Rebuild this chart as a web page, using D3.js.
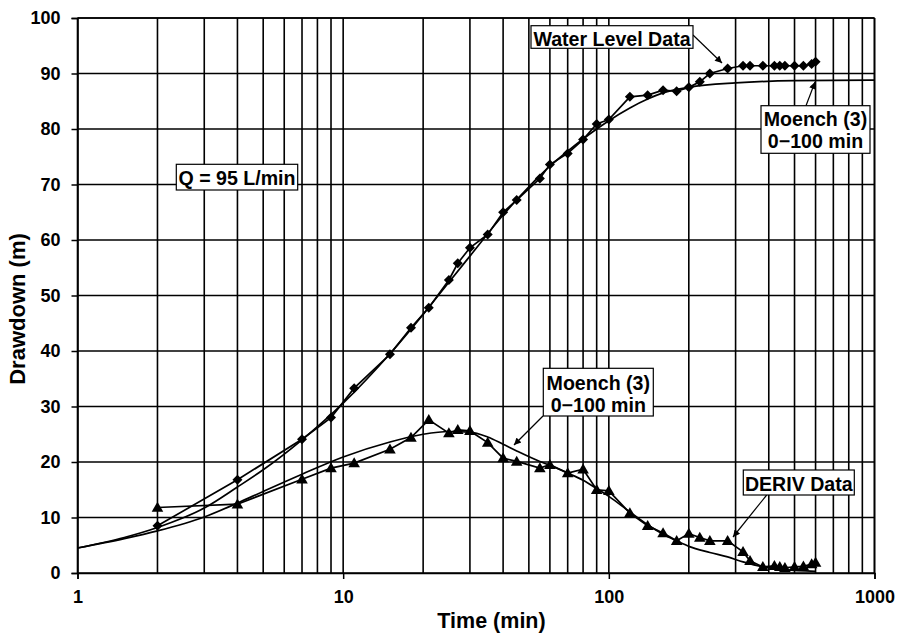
<!DOCTYPE html>
<html>
<head>
<meta charset="utf-8">
<script src="https://cdn.jsdelivr.net/npm/d3@7"></script>
<style>
  html, body { margin: 0; padding: 0; background: #fff; }
  svg { display: block; }
  text { font-family: "Liberation Sans", Arial, Helvetica, sans-serif; font-weight: bold; fill: #000; }
</style>
</head>
<body>
<svg id="chart" width="897" height="635"></svg>
<script>
// ---------------- DATA ----------------
const timeMin = [2,4,7,9,11,15,18,21,25,27,30,35,40,45,55,60,70,80,90,100,120,140,160,180,200,220,240,280,320,340,380,420,440,460,500,540,580,600];
const waterLevel = [8.5,16.8,24.1,28.0,33.3,39.4,44.2,47.8,52.8,55.8,58.6,61.0,65.0,67.2,71.1,73.6,75.6,78.1,80.9,81.7,85.8,86.1,87.0,86.8,87.5,88.5,90.0,90.9,91.4,91.4,91.4,91.4,91.4,91.4,91.4,91.4,91.7,92.1];
const derivData = [11.8,12.4,16.9,18.9,19.8,22.3,24.4,27.6,25.2,25.8,25.6,23.5,20.7,20.1,18.9,19.5,18.0,18.7,15.0,14.8,10.8,8.5,7.2,5.8,7.1,6.4,5.8,5.8,3.8,2.2,1.1,1.3,1.1,0.95,1.1,1.2,1.6,1.9];

const moenchWLTime = [1,1.5,2,3,4,5,7,10,15,20,25,30,40,50,60,70,80,90,100,120,140,160,200,300,500,1000];
const moenchWL     = [4.5,6.4,8.2,11.7,15.5,18.6,24.0,30.6,39.5,46.6,52.4,57.1,64.5,69.6,73.3,76.0,78.2,80.0,81.5,83.8,85.4,86.5,87.5,88.3,88.7,88.8];

const moenchDTime = [1,1.5,2,3,4,5,7,10,15,20,25,30,35,40,45,55,60,70,80,90,100,120,140,160,180,200,240,280,320,380,460,600];
const moenchD     = [4.5,6.2,7.6,10.1,12.6,14.7,17.8,20.9,23.6,25.0,25.5,25.4,24.5,23.2,22.0,20.1,19.4,18.0,16.7,15.2,13.8,11.0,8.7,7.0,5.8,4.8,3.7,2.9,2.0,1.1,0.6,0.3];

const xTickValues = [1,10,100,1000];
const xTickLabels = ["1","10","100","1000"];
const yTickValues = [0,10,20,30,40,50,60,70,80,90,100];
const xTitle = "Time (min)";
const yTitle = "Drawdown (m)";

// ---------------- LAYOUT ----------------
const W = 897, H = 635;
const L = 77.5, R = 874.5, T = 18, B = 573;

const svg = d3.select("#chart");
const x = d3.scaleLog().domain([1,1000]).range([L, R]);
const y = d3.scaleLinear().domain([0,100]).range([B, T]);

const gridColor = "#000";
const gridW = 1.6;

const vGrid = [];
for (let d = 1; d < 1000; d *= 10) for (let k = 1; k <= 9; k++) vGrid.push(d * k);
vGrid.push(1000);
svg.append("g").selectAll("line").data(vGrid).join("line")
  .attr("x1", d => x(d)).attr("x2", d => x(d))
  .attr("y1", T).attr("y2", B)
  .attr("stroke", gridColor).attr("stroke-width", gridW);

svg.append("g").selectAll("line").data(yTickValues).join("line")
  .attr("x1", L).attr("x2", R)
  .attr("y1", d => y(d)).attr("y2", d => y(d))
  .attr("stroke", gridColor).attr("stroke-width", gridW);

const xAxis = d3.axisBottom(x).tickValues(xTickValues)
  .tickFormat((d,i) => xTickLabels[i]).tickSize(6).tickPadding(11);
const gx = svg.append("g").attr("transform", `translate(0,${B})`).call(xAxis);
gx.select(".domain").attr("stroke", "#000").attr("stroke-width", 1.6);
gx.selectAll(".tick line").attr("stroke", "#000").attr("stroke-width", 1.5);
gx.selectAll(".tick text").attr("font-size", 18).attr("font-family", null);

const yAxis = d3.axisLeft(y).tickValues(yTickValues).tickSize(6).tickPadding(11);
const gy = svg.append("g").attr("transform", `translate(${L},0)`).call(yAxis);
gy.select(".domain").attr("stroke", "#000").attr("stroke-width", 1.6);
gy.selectAll(".tick line").attr("stroke", "#000").attr("stroke-width", 1.5);
gy.selectAll(".tick text").attr("font-size", 18).attr("font-family", null);

svg.append("line").attr("x1", L).attr("x2", R).attr("y1", T).attr("y2", T).attr("stroke", "#000").attr("stroke-width", 1.6);
svg.append("line").attr("x1", R).attr("x2", R).attr("y1", T).attr("y2", B).attr("stroke", "#000").attr("stroke-width", 1.6);

svg.append("text").attr("x", 491.5).attr("y", 627.5)
  .attr("text-anchor", "middle").attr("font-size", 21.5).text(xTitle);
svg.append("text").attr("transform", `translate(25,309) rotate(-90)`)
  .attr("text-anchor", "middle").attr("font-size", 22).text(yTitle);

// ---------------- CURVES ----------------
const smooth = d3.line().x(d => x(d[0])).y(d => y(d[1])).curve(d3.curveMonotoneX);
const straight = d3.line().x(d => x(d[0])).y(d => y(d[1]));

svg.append("path").datum(moenchWLTime.map((t,i) => [t, moenchWL[i]]))
  .attr("d", smooth).attr("fill", "none").attr("stroke", "#000").attr("stroke-width", 1.7);
svg.append("path").datum(moenchDTime.map((t,i) => [t, moenchD[i]]))
  .attr("d", smooth).attr("fill", "none").attr("stroke", "#000").attr("stroke-width", 1.7);

const wlPts = timeMin.map((t,i) => [t, waterLevel[i]]);
const dPts = timeMin.map((t,i) => [t, derivData[i]]);

svg.append("path").datum(wlPts).attr("d", straight)
  .attr("fill", "none").attr("stroke", "#000").attr("stroke-width", 1.7);
svg.append("path").datum(dPts).attr("d", straight)
  .attr("fill", "none").attr("stroke", "#000").attr("stroke-width", 1.7);

svg.append("g").selectAll("path").data(wlPts).join("path")
  .attr("transform", d => `translate(${x(d[0])},${y(d[1])}) rotate(45)`)
  .attr("d", d3.symbol().type(d3.symbolSquare).size(50))
  .attr("fill", "#000");

const tri = "M0,-5.8 L5.8,4.2 L-5.8,4.2 Z";
svg.append("g").selectAll("path").data(dPts).join("path")
  .attr("transform", d => `translate(${x(d[0])},${y(d[1])})`)
  .attr("d", tri).attr("fill", "#000");

// ---------------- ANNOTATIONS ----------------
const defs = svg.append("defs");
defs.append("marker").attr("id", "ah")
  .attr("viewBox", "0 0 10 10").attr("refX", 10).attr("refY", 5)
  .attr("markerWidth", 10).attr("markerHeight", 7).attr("markerUnits", "userSpaceOnUse")
  .attr("orient", "auto")
  .append("path").attr("d", "M0,0 L10,5 L0,10 Z").attr("fill", "#000");

const notes = [
  { lines: ["Water Level Data"], box: [531, 25.7, 162, 22.6], base: [46], arrow: [693, 35, 722, 63] },
  { lines: ["Moench (3)", "0\u2212100 min"], box: [761, 105.7, 109, 47.6], base: [125.7, 148.3], arrow: [806, 105.7, 815, 82] },
  { lines: ["Q = 95 L/min"], box: [176.3, 164.3, 121.4, 25.7], base: [185], arrow: null },
  { lines: ["Moench (3)", "0\u2212100 min"], box: [543.3, 368.3, 110, 47.7], base: [390, 412.3], arrow: [543, 416, 514, 445] },
  { lines: ["DERIV Data"], box: [743.3, 470, 111, 25], base: [490.7], arrow: [766.7, 495, 733, 537] }
];

notes.forEach(n => {
  if (n.arrow) {
    svg.append("line")
      .attr("x1", n.arrow[0]).attr("y1", n.arrow[1]).attr("x2", n.arrow[2]).attr("y2", n.arrow[3])
      .attr("stroke", "#000").attr("stroke-width", 1.2).attr("marker-end", "url(#ah)");
  }
  svg.append("rect").attr("x", n.box[0]).attr("y", n.box[1]).attr("width", n.box[2]).attr("height", n.box[3])
    .attr("fill", "#fff").attr("stroke", "#000").attr("stroke-width", 1.2);
  n.lines.forEach((s, i) => {
    svg.append("text").attr("x", n.box[0] + n.box[2] / 2).attr("y", n.base[i])
      .attr("text-anchor", "middle").attr("font-size", 19.6).text(s);
  });
});
</script>
</body>
</html>
